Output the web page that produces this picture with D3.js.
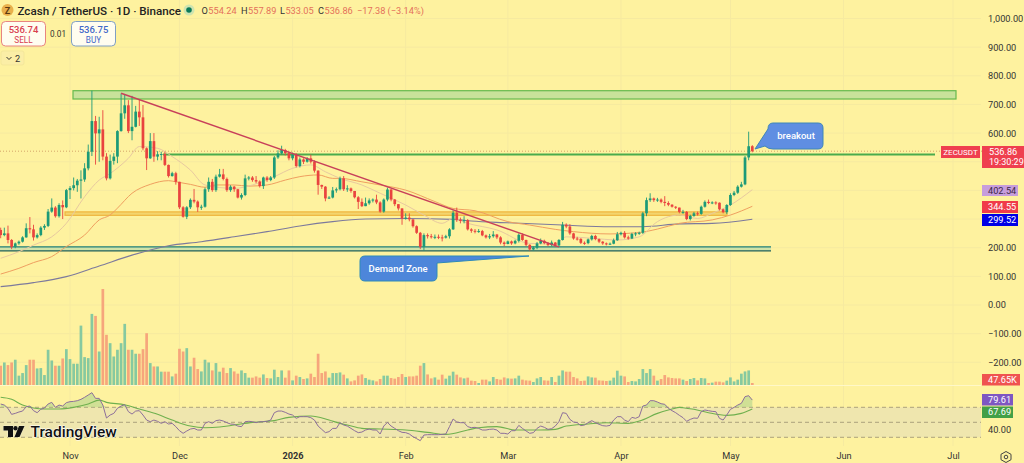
<!DOCTYPE html>
<html>
<head>
<meta charset="utf-8">
<script src="https://cdn.jsdelivr.net/npm/d3@7"></script>
<style>
  html, body { margin: 0; padding: 0; background: #fef29f; overflow: hidden; }
  svg { display: block; font-family: Roboto, sans-serif; }
  .axis path, .axis line { display: none; }
  .axis text { fill: #333; font-size: 9.2px; font-family: Roboto, sans-serif; }
</style>
</head>
<body>
<svg id="chart" width="1024" height="463"></svg>
<script>
// daily candles, first one is 13 Oct 2025
const firstOpen = 262
const closes = [
  244,250,227,203,215,221,236,268,264,236,
  244,270,276,326,340,310,349,341,401,408,
  418,434,438,477,535,642,599,613,518,442,
  503,518,607,669,697,607,622,675,655,547,
  512,572,518,526,527,489,450,460,430,341,
  308,341,367,361,341,343,404,430,401,448,
  456,440,401,413,404,375,384,442,445,436,
  431,415,445,436,445,515,529,541,530,512,
  524,485,508,500,512,500,469,419,413,372,
  375,400,404,442,404,407,398,376,360,345,
  355,365,368,358,326,368,403,368,352,337,
  302,305,299,275,252,203,244,240,238,238,
  236,235,240,264,322,297,294,296,264,259,
  258,258,243,236,240,246,236,218,213,222,
  215,224,245,227,210,194,200,215,224,216,
  209,218,208,227,280,274,250,232,231,217,
  216,229,241,230,221,215,213,214,226,247,
  252,236,232,248,250,252,320,366,372,366,
  368,360,356,350,343,340,325,325,300,311,
  320,318,343,360,356,358,357,334,324,349,
  384,392,413,421,515,554.24,536.86
]
const highs = [
  270,270,277,230,218,225,240,285,307,280,
  250,275,282,335,372,345,355,365,405,415,
  445,440,470,495,560,748,660,657,680,530,
  525,530,610,738,735,715,730,695,717,698,
  550,600,600,537,535,535,490,465,465,430,
  345,345,372,405,365,350,410,445,440,455,
  475,475,445,418,416,405,390,455,450,450,
  450,435,448,450,450,520,540,556,545,535,
  532,530,515,512,516,525,505,470,420,415,
  380,412,410,448,450,418,410,398,380,372,
  375,372,372,385,362,372,410,405,370,352,
  338,320,320,298,278,255,250,250,248,246,
  246,245,245,268,330,340,305,310,300,268,
  265,265,262,246,248,258,248,240,222,225,
  225,228,250,250,228,212,205,220,232,228,
  220,225,220,230,290,285,282,252,238,233,
  222,232,245,245,232,223,218,218,232,255,
  256,258,242,252,254,256,325,375,390,375,
  374,372,380,362,352,345,340,332,328,315,
  325,326,347,365,368,362,362,358,336,352,
  390,398,418,430,520,605,557.89
]
const lows = [
  233,240,215,195,198,210,218,235,250,225,
  232,240,262,272,322,305,305,300,338,370,
  400,395,372,430,470,520,490,500,505,435,
  438,490,495,605,650,600,575,620,625,540,
  471,510,500,505,505,485,445,448,420,335,
  305,300,335,355,325,332,340,395,395,395,
  445,435,395,395,395,372,368,380,435,430,
  425,410,405,430,432,440,510,525,522,505,
  505,480,480,492,497,494,462,385,405,362,
  370,372,392,400,398,395,392,372,335,342,
  345,350,358,352,322,322,362,362,345,330,
  280,298,292,270,248,195,190,232,232,230,
  230,222,232,232,262,290,285,285,260,252,
  250,252,240,232,230,235,230,212,205,212,
  210,212,218,224,205,190,190,195,212,212,
  205,205,203,204,225,268,245,228,225,213,
  210,212,225,226,216,210,208,210,212,224,
  243,232,228,230,240,245,248,310,360,360,
  360,355,345,345,340,335,320,318,296,295,
  308,312,315,340,352,352,350,330,320,318,
  346,380,388,410,418,505,533.05
]
const volumes = [
  155,181,160,181,203,75,96,160,203,203,
  133,136,80,283,197,155,155,213,288,208,
  171,171,477,224,216,571,555,269,771,403,
  336,229,283,336,491,283,283,251,251,288,
  416,176,149,149,107,107,107,69,91,291,
  269,296,149,219,128,109,203,181,117,176,
  107,139,96,136,109,91,117,96,59,59,
  69,59,85,56,53,123,64,117,59,117,
  37,75,64,48,53,91,64,251,96,109,
  59,96,96,101,83,53,29,37,75,85,
  56,43,37,29,48,75,75,56,51,64,
  88,64,69,69,75,155,176,85,53,61,
  43,83,51,75,107,83,61,53,59,35,
  32,16,43,43,29,64,48,43,61,53,
  51,53,75,43,37,35,24,53,64,37,
  35,64,24,75,117,107,107,64,53,32,
  35,69,61,59,37,35,32,35,59,115,
  75,69,24,32,29,48,128,96,128,75,
  35,48,80,61,56,53,53,43,32,48,
  56,37,56,53,16,19,27,27,21,35,
  61,29,43,91,109,117,16
]
const rsi = [
  74.4,73,68.6,60.6,61.9,63.7,65,70.8,71.7,65.5,
  62.8,67.3,69,74.4,76.6,69.9,73,71.7,76.2,77.5,
  77.9,78.8,80.6,83.3,86.4,89.5,81.9,81.9,73,55.7,
  59.7,61.9,68.6,71.7,73.5,64.2,61,65,65.5,59.7,
  53,50.8,53,51.3,48.6,50.8,47.7,48.6,44.2,38.8,
  35.3,38.4,41,41.9,39.7,39.7,48.6,50.8,48.6,52.2,
  53,51.7,49.5,47.7,47.3,45,44.2,50.8,51.3,50.8,
  49.5,50.8,50.8,51.3,53,62.8,65,65,63.3,61,
  59.7,55.3,57.5,57.5,57.5,56.2,53,45,40.6,36.2,
  37.5,41.9,41.9,49.5,46.4,45,41.9,38.8,36.2,37,
  39.7,41,39.7,39.7,34.4,45,49.9,45,41.9,38.8,
  36.6,36.2,34.4,30.8,28.2,25.5,33,33.5,33.5,33.5,
  33.5,33.9,34.4,44.2,54.4,50.4,49.5,49.5,44.2,42.8,
  43.3,41.9,39.7,39.7,40.6,41,39.7,35.3,35.3,34.4,
  38.8,38.8,45.9,41.9,38.4,35.3,36.2,41.9,45,43.3,
  40.6,41.5,45,50.8,62.8,61.9,53.9,50.4,49.5,45.5,
  46.4,49.5,52.2,49.5,47.3,45.5,45,45.9,53,57.5,
  57.5,53,50.8,56.6,55.3,57.5,71.7,73,78.8,78.8,
  77,74.8,74,68.6,65.5,62.8,59.3,56.2,51.3,53.9,
  55.7,55.3,64.2,66.4,65.5,64.6,64.2,55.3,53,59.7,
  67.3,69.9,73,75.3,84.2,85.5,79.61
]

const maFast = [[0,163],[5,186],[9,209],[14,238],[18,285],[23,378],[27,436],[30,459],[35,512],[38,553],[43,547],[47,518],[52,471],[56,419],[64,407],[69,419],[75,448],[80,477],[85,489],[89,465],[93,442],[99,419],[104,390],[111,349],[116,314],[121,285],[124,302],[128,285],[136,262],[145,215],[152,213],[155,238],[162,233],[169,227],[175,238],[180,291],[186,314],[191,302],[195,320],[200,349],[206,402.54]]
const maMid = [[0,108],[5,128],[9,148],[14,169],[18,204],[23,244],[27,297],[30,314],[32,338],[36,390],[41,421],[46,434],[48,430],[52,421],[56,411],[59,419],[64,419],[68,415],[73,419],[78,436],[82,448],[87,454],[91,442],[93,442],[99,430],[104,419],[111,401],[119,361],[124,337],[130,329],[139,291],[145,279],[152,264],[157,256],[167,248],[175,253],[180,265],[186,285],[195,297],[200,314],[206,344.55]]
const maSlow = [[0,64],[9,78],[18,99],[27,136],[36,174],[46,207],[55,221],[64,238],[73,256],[82,276],[91,291],[100,300],[111,302],[124,299],[129,293],[139,287],[154,279],[167,273],[176,273],[186,283],[195,285],[206,299.52]]
const rsiMa = [[0,83.3],[3,80.6],[6,73],[12,67.7],[16,67.7],[20,69.9],[24,74.4],[27,79.6],[29,76.6],[34,73.5],[38,67.7],[43,60.6],[47,53],[52,45],[56,42.8],[60,43.7],[64,46.4],[69,49.9],[75,52.2],[79,56.6],[85,58.4],[90,53],[93,48.6],[95,46.4],[99,41.9],[104,41],[111,39.7],[117,36.6],[122,33.9],[128,39.7],[131,42.8],[136,44.2],[141,39.7],[148,39.7],[152,40.6],[155,45],[161,47.7],[166,49.5],[172,48.6],[175,51.7],[180,61.9],[184,67.7],[186,69.9],[187,69.5],[190,67.3],[194,62.8],[199,59.3],[203,61.9],[206,67.69]]

// drawings on the chart
const trendLine = [[33,739],[153,203]]
const topZone = [73,956,748,719]
const resistance = [163,935,525]
const midZone = [65,727,325,313]
const demandZone = [0,771,203,189]

const priceTicks = [1000,900,800,700,600,500,400,300,200,100,0,-100,-200]
const monthTicks = ["2025-11-01","2025-12-01","2026-01-01","2026-02-01","2026-03-01","2026-04-01","2026-05-01","2026-06-01","2026-07-01"].map(d => new Date(d + "T00:00:00Z"))
const lastPrice = 536.86

const upColor = "#1c9a78", downColor = "#e9433f"
const upVol = "#86c9a0", downVol = "#f6a67c"

const firstDay = new Date("2025-10-13T00:00:00Z")
const dayOf = i => d3.utcDay.offset(firstDay, i)
const opens = [firstOpen].concat(closes.slice(0, -1))

const x = d3.scaleUtc().domain([monthTicks[0], monthTicks[8]]).range([70, 953])
const xi = i => x(dayOf(i))
const y = d3.scaleLinear().domain([0, 1000]).range([305, 18.5])
const yVol = d3.scaleLinear().domain([0, 771]).range([385, 289])
const yRsi = d3.scaleLinear().domain([30, 70]).range([437.3, 407.3])

const svg = d3.select("#chart")
svg.append("rect").attr("width", 1024).attr("height", 463).attr("fill", "#fef29f")

// grid
const grid = svg.append("g").attr("stroke", "#f6eaa0").attr("stroke-width", 1)
grid.selectAll("line.v").data(monthTicks).join("line")
  .attr("x1", d => x(d)).attr("x2", d => x(d)).attr("y1", 0).attr("y2", 446)
grid.selectAll("line.h").data(priceTicks).join("line")
  .attr("x1", 0).attr("x2", 981).attr("y1", d => y(d)).attr("y2", d => y(d))

// zones
svg.append("rect").attr("x", topZone[0]).attr("width", topZone[1] - topZone[0])
  .attr("y", y(topZone[2])).attr("height", y(topZone[3]) - y(topZone[2]))
  .attr("fill", "#c8e29a").attr("stroke", "#66ba4e").attr("stroke-width", 1.2)
svg.append("rect").attr("x", midZone[0]).attr("width", midZone[1] - midZone[0])
  .attr("y", y(midZone[2])).attr("height", y(midZone[3]) - y(midZone[2]))
  .attr("fill", "#f3d46e").attr("stroke", "#eeb53e").attr("stroke-width", 1.2)
svg.append("rect").attr("x", demandZone[0]).attr("width", demandZone[1] - demandZone[0])
  .attr("y", y(demandZone[2])).attr("height", y(demandZone[3]) - y(demandZone[2]))
  .attr("fill", "#cfe3a8")
svg.append("line").attr("x1", demandZone[0]).attr("x2", demandZone[1])
  .attr("y1", y(demandZone[2])).attr("y2", y(demandZone[2])).attr("stroke", "#1f7f78").attr("stroke-width", 1.2)
svg.append("line").attr("x1", demandZone[0]).attr("x2", demandZone[1])
  .attr("y1", y(demandZone[3])).attr("y2", y(demandZone[3])).attr("stroke", "#1f5f5a").attr("stroke-width", 1.2)

// last price dotted line and resistance
svg.append("line").attr("x1", 0).attr("x2", 982).attr("y1", y(lastPrice)).attr("y2", y(lastPrice))
  .attr("stroke", "#c9925c").attr("stroke-width", 0.8).attr("stroke-dasharray", "1 2")
svg.append("line").attr("x1", resistance[0]).attr("x2", resistance[1])
  .attr("y1", y(resistance[2])).attr("y2", y(resistance[2])).attr("stroke", "#4aab4c").attr("stroke-width", 2)

// moving averages
const maLine = d3.line().x(d => xi(d[0])).y(d => y(d[1])).curve(d3.curveMonotoneX)
svg.append("path").datum(maSlow).attr("d", maLine).attr("fill", "none").attr("stroke", "#7d7a9c").attr("stroke-width", 1.1)
svg.append("path").datum(maMid).attr("d", maLine).attr("fill", "none").attr("stroke", "#ef9f60").attr("stroke-width", 1)
svg.append("path").datum(maFast).attr("d", maLine).attr("fill", "none").attr("stroke", "#e8c9a0").attr("stroke-width", 1)

// candles
const candles = svg.append("g")
candles.selectAll("line").data(closes).join("line")
  .attr("x1", (d, i) => xi(i)).attr("x2", (d, i) => xi(i))
  .attr("y1", (d, i) => y(highs[i])).attr("y2", (d, i) => y(lows[i]))
  .attr("stroke", (d, i) => d >= opens[i] ? upColor : downColor).attr("stroke-width", 0.9)
candles.selectAll("rect").data(closes).join("rect")
  .attr("x", (d, i) => xi(i) - 1.35).attr("width", 2.7)
  .attr("y", (d, i) => y(Math.max(d, opens[i])))
  .attr("height", (d, i) => Math.max(1, Math.abs(y(d) - y(opens[i]))))
  .attr("fill", (d, i) => d >= opens[i] ? upColor : downColor)

// trend line
svg.append("path").datum(trendLine).attr("d", d3.line().x(d => xi(d[0])).y(d => y(d[1])))
  .attr("fill", "none").attr("stroke", "#c8405a").attr("stroke-width", 1.4)

// volume
svg.append("line").attr("x1", 0).attr("x2", 981).attr("y1", 385.5).attr("y2", 385.5).attr("stroke", "#fff8c8")
svg.append("g").selectAll("rect").data(volumes).join("rect")
  .attr("x", (d, i) => xi(i) - 1.35).attr("width", 2.7)
  .attr("y", d => yVol(d)).attr("height", d => yVol(0) - yVol(d))
  .attr("fill", (d, i) => closes[i] >= opens[i] ? upVol : downVol)

// rsi pane
svg.append("rect").attr("x", 0).attr("width", 981).attr("y", yRsi(70)).attr("height", yRsi(30) - yRsi(70)).attr("fill", "#efe6ae")
svg.append("g").selectAll("line").data([70, 50, 30]).join("line")
  .attr("x1", 0).attr("x2", 981).attr("y1", d => yRsi(d)).attr("y2", d => yRsi(d))
  .attr("stroke", "#9a8f70").attr("stroke-width", 0.8).attr("stroke-dasharray", "4 3")
const obArea = d3.area().x((d, i) => xi(i)).y0(yRsi(70)).y1(d => yRsi(Math.max(d, 70)))
svg.append("path").datum(rsi).attr("d", obArea).attr("fill", "#a9d28c").attr("fill-opacity", 0.55)
svg.append("path").datum(rsiMa).attr("d", d3.line().x(d => xi(d[0])).y(d => yRsi(d[1])).curve(d3.curveMonotoneX))
  .attr("fill", "none").attr("stroke", "#6fb04e").attr("stroke-width", 1.1)
svg.append("path").datum(rsi).attr("d", d3.line().x((d, i) => xi(i)).y(d => yRsi(d)))
  .attr("fill", "none").attr("stroke", "#8d6f9a").attr("stroke-width", 1)

// axes
svg.append("g").attr("class", "axis").attr("transform", "translate(985,0)")
  .call(d3.axisRight(y).tickValues(priceTicks).tickSize(0).tickPadding(3).tickFormat(d3.format(",.2f")))
  .call(g => g.select(".domain").remove())
svg.append("text").attr("x", 988).attr("y", yRsi(40) + 3.2).attr("fill", "#333").attr("font-size", 9.2).text("40.00")

svg.append("g").attr("class", "axis").attr("transform", "translate(0,452)")
  .call(d3.axisBottom(x).tickValues(monthTicks).tickSize(0).tickPadding(0)
    .tickFormat(d => d.getUTCMonth() === 0 ? d3.utcFormat("%Y")(d) : d3.utcFormat("%b")(d)))
  .call(g => g.selectAll("text").attr("font-weight", d => d.getUTCMonth() === 0 ? 700 : 400))

// price labels on the right
const tags = [
  { text: "402.54", top: 185, h: 11, w: 36, bg: "#c79ddc", fg: "#3b2a45" },
  { text: "344.55", top: 201, h: 12, w: 36, bg: "#f03b4a", fg: "#fff" },
  { text: "299.52", top: 214, h: 12, w: 36, bg: "#0000e6", fg: "#fff" },
  { text: "47.65K", top: 374, h: 11.5, w: 38, bg: "#ef5350", fg: "#fff" },
  { text: "79.61", top: 394, h: 11.5, w: 31, bg: "#7e57c2", fg: "#fff" },
  { text: "67.69", top: 406.5, h: 11.5, w: 31, bg: "#43a047", fg: "#fff" }
]
const tagG = svg.append("g").selectAll("g").data(tags).join("g")
tagG.append("rect").attr("x", 982).attr("y", d => d.top).attr("width", d => d.w).attr("height", d => d.h).attr("fill", d => d.bg)
tagG.append("text").attr("x", 988).attr("y", d => d.top + d.h / 2 + 3.2).attr("font-size", 9.2).attr("fill", d => d.fg).text(d => d.text)

svg.append("rect").attr("x", 941).attr("y", 146).attr("width", 39).attr("height", 12).attr("fill", "#ef3f4f")
svg.append("text").attr("x", 960.5).attr("y", 155).attr("text-anchor", "middle").attr("font-size", 8).attr("fill", "#fff").text("ZECUSDT")
svg.append("rect").attr("x", 982).attr("y", 146).attr("width", 42).attr("height", 22).attr("fill", "#ef3f4f")
svg.append("text").attr("x", 989).attr("y", 155).attr("font-size", 9.2).attr("fill", "#fff").text("536.86")
svg.append("text").attr("x", 989).attr("y", 165).attr("font-size", 9).attr("fill", "#fff").text("19:30:29")

// callouts
svg.append("path")
  .attr("d", "M773 123 H818 Q823 123 823 128 V144 Q823 149 818 149 H773 Q768 149 765 146 L755 149 L768 129 Q768 123 773 123 Z")
  .attr("fill", "#5f8ee2").attr("stroke", "#3f86b8").attr("stroke-width", 1)
svg.append("text").attr("x", 796).attr("y", 139).attr("text-anchor", "middle").attr("font-size", 9.5).attr("font-weight", 500).attr("fill", "#fff").text("breakout")
svg.append("path")
  .attr("d", "M365 256 H529 L437 263 V276 Q437 281 432 281 H365 Q360 281 360 276 V261 Q360 256 365 256 Z")
  .attr("fill", "#4d86da").attr("stroke", "#2f8ab8").attr("stroke-width", 1)
svg.append("text").attr("x", 398).attr("y", 272).attr("text-anchor", "middle").attr("font-size", 9.5).attr("font-weight", 500).attr("fill", "#fff").text("Demand Zone")

// header
svg.append("circle").attr("cx", 7.5).attr("cy", 10).attr("r", 6).attr("fill", "#e9b04c")
svg.append("text").attr("x", 7.5).attr("y", 13.5).attr("text-anchor", "middle").attr("font-size", 9).attr("font-weight", 700).attr("fill", "#5a3a10").text("Z")
svg.append("text").attr("x", 17.5).attr("y", 14.5).attr("font-size", 11.6).attr("font-weight", 500).attr("fill", "#222").text("Zcash / TetherUS · 1D · Binance")
svg.append("circle").attr("cx", 189).attr("cy", 10).attr("r", 5.5).attr("fill", "#cfe4b0")
svg.append("circle").attr("cx", 189).attr("cy", 10).attr("r", 2.8).attr("fill", "#0b7a5a")
const ohlc = [["O", "554.24", 201.5], ["H", "557.89", 241], ["L", "533.05", 280], ["C", "536.86", 318]]
ohlc.forEach(o => {
  const t = svg.append("text").attr("x", o[2]).attr("y", 14).attr("font-size", 9.2)
  t.append("tspan").attr("fill", "#333").text(o[0])
  t.append("tspan").attr("fill", "#e4705a").attr("dx", 0.5).text(o[1])
})
svg.append("text").attr("x", 357).attr("y", 14).attr("font-size", 9.2).attr("fill", "#e4705a").text("−17.38 (−3.14%)")

function tradeBox(left, stroke, color, price, label) {
  svg.append("rect").attr("x", left).attr("y", 21.5).attr("width", 44).attr("height", 24.5).attr("rx", 4)
    .attr("fill", "#fffdf0").attr("stroke", stroke)
  svg.append("text").attr("x", left + 22).attr("y", 32.5).attr("text-anchor", "middle").attr("font-size", 9.5).attr("font-weight", 500).attr("fill", color).text(price)
  svg.append("text").attr("x", left + 22).attr("y", 42.5).attr("text-anchor", "middle").attr("font-size", 8.2).attr("fill", color).text(label)
}
tradeBox(1.5, "#e8857f", "#d8404f", "536.74", "SELL")
tradeBox(71.5, "#7f9fc4", "#3f68c8", "536.75", "BUY")
svg.append("text").attr("x", 58).attr("y", 36.5).attr("text-anchor", "middle").attr("font-size", 8.2).attr("fill", "#333").text("0.01")
svg.append("rect").attr("x", 1).attr("y", 51).attr("width", 23).attr("height", 14).attr("rx", 2).attr("fill", "#fbeea6").attr("stroke", "#f4e79a")
svg.append("path").attr("d", "M6.5 57 L9 59.5 L11.5 57").attr("fill", "none").attr("stroke", "#333")
svg.append("text").attr("x", 15).attr("y", 61.5).attr("font-size", 9.2).attr("fill", "#333").text("2")

// watermark
const logo = svg.append("g").attr("fill", "#111").attr("stroke", "#fff").attr("stroke-width", 0.4).attr("paint-order", "stroke")
logo.append("path").attr("d", "M3.5 426 H13 V437 H8 V430.5 H3.5 Z")
logo.append("circle").attr("cx", 15.5).attr("cy", 428.3).attr("r", 2.2)
logo.append("path").attr("d", "M19 426 H24.5 L19.5 437 H14.5 Z")
svg.append("text").attr("x", 30.5).attr("y", 437).attr("font-size", 15.5).attr("font-weight", 500).attr("fill", "#111")
  .attr("stroke", "#fff").attr("stroke-width", 1.2).attr("paint-order", "stroke").text("TradingView")

// settings icon
svg.append("path").attr("d", "M1006 451.5 L1011 454.3 V459.7 L1006 462.5 L1001 459.7 V454.3 Z").attr("fill", "none").attr("stroke", "#444")
svg.append("circle").attr("cx", 1006).attr("cy", 457).attr("r", 1.8).attr("fill", "none").attr("stroke", "#444")
</script>
</body>
</html>
